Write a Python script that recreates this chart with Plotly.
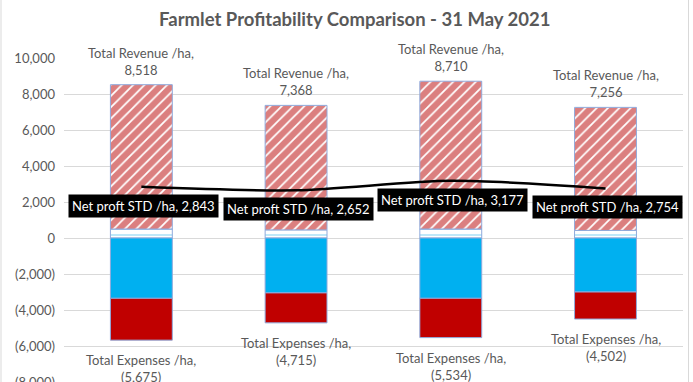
import plotly.graph_objects as go

categories = ["Farmlet A", "Farmlet B", "Farmlet C", "Farmlet D"]
total_revenue = [8518, 7368, 8710, 7256]
other_revenue = [500, 450, 500, 420]
total_expenses = [-5675, -4715, -5534, -4502]
expense_part1 = [-3350, -3050, -3350, -3000]
net_profit = [2843, 2652, 3177, 2754]
tick_values = [-8000, -6000, -4000, -2000, 0, 2000, 4000, 6000, 8000, 10000]


def fmt(v):
    return f"({abs(v):,})" if v < 0 else f"{v:,}"


tick_text = [fmt(v) for v in tick_values]
hatched_revenue = [t - o for t, o in zip(total_revenue, other_revenue)]
expense_part2 = [t - e for t, e in zip(total_expenses, expense_part1)]

FONT = "Lato"
GREY = "#595959"
EDGE = "#8faadc"

fig = go.Figure()
fig.add_bar(x=categories, y=other_revenue, width=0.4,
            marker=dict(color="white", line=dict(color=EDGE, width=1),
                        pattern=dict(shape="-", fgcolor="#6fcdf3", bgcolor="white",
                                     size=6, solidity=0.3, fillmode="overlay")))
fig.add_bar(x=categories, y=hatched_revenue, width=0.4,
            marker=dict(color="white", line=dict(color=EDGE, width=1),
                        pattern=dict(shape="/", fgcolor="#b80000", bgcolor="white",
                                     size=8, solidity=0.78, fillmode="overlay")))
fig.add_bar(x=categories, y=expense_part1, width=0.4,
            marker=dict(color="#00b0f0", line=dict(color=EDGE, width=1)))
fig.add_bar(x=categories, y=expense_part2, width=0.4,
            marker=dict(color="#c00000", line=dict(color=EDGE, width=1)))
fig.add_scatter(x=categories, y=net_profit, mode="lines",
                line=dict(color="black", width=2.5, shape="spline", smoothing=0.8))

annotations = []
for c, v in zip(categories, total_revenue):
    annotations.append(dict(x=c, y=v, text=f"Total Revenue /ha,<br>{fmt(v)}",
                            showarrow=False, yanchor="bottom", yshift=5,
                            font=dict(family=FONT, size=13, color=GREY)))
for c, v in zip(categories, total_expenses):
    annotations.append(dict(x=c, y=v, text=f"Total Expenses /ha,<br>{fmt(v)}",
                            showarrow=False, yanchor="top", yshift=-10,
                            font=dict(family=FONT, size=13, color=GREY)))
for c, v in zip(categories, net_profit):
    annotations.append(dict(x=c, y=v, text=f"Net proft STD /ha, {fmt(v)}",
                            showarrow=False, yanchor="middle", yshift=-19, xshift=2,
                            bgcolor="black", borderpad=3,
                            font=dict(family=FONT, size=13, color="white")))

border = dict(type="line", xref="paper", yref="paper", y0=-0.2, y1=1.3,
              line=dict(color="#d9d9d9", width=1), layer="below")
shapes = [dict(border, x0=(1 - 64) / 619, x1=(1 - 64) / 619),
          dict(border, x0=(688.5 - 64) / 619, x1=(688.5 - 64) / 619)]

fig.update_layout(
    width=693, height=382,
    margin=dict(l=64, r=10, t=58, b=0, autoexpand=False),
    paper_bgcolor="white", plot_bgcolor="white",
    barmode="relative", bargap=0.6, showlegend=False,
    title=dict(text="<b>Farmlet Profitability Comparison - 31 May 2021</b>",
               x=0.512, xanchor="center", y=1 - 20 / 382, yanchor="middle",
               font=dict(family=FONT, size=18.5, color=GREY)),
    xaxis=dict(showticklabels=False, showgrid=False, zeroline=False, showline=False,
               automargin=False),
    yaxis=dict(range=[-8000, 10000], tickvals=tick_values, ticktext=tick_text,
               showgrid=True, gridcolor="#d9d9d9", gridwidth=1,
               zeroline=False, showline=False, ticks="", ticklabelstandoff=8,
               ticklabeloverflow="allow", automargin=False,
               tickfont=dict(family=FONT, size=13, color=GREY)),
    annotations=annotations,
    shapes=shapes,
)
post = ("document.body.style.margin='0';document.body.style.overflow='hidden';"
        "document.documentElement.style.overflow='hidden';")
fig.write_html("out.html", config={"displayModeBar": False}, post_script=post)
